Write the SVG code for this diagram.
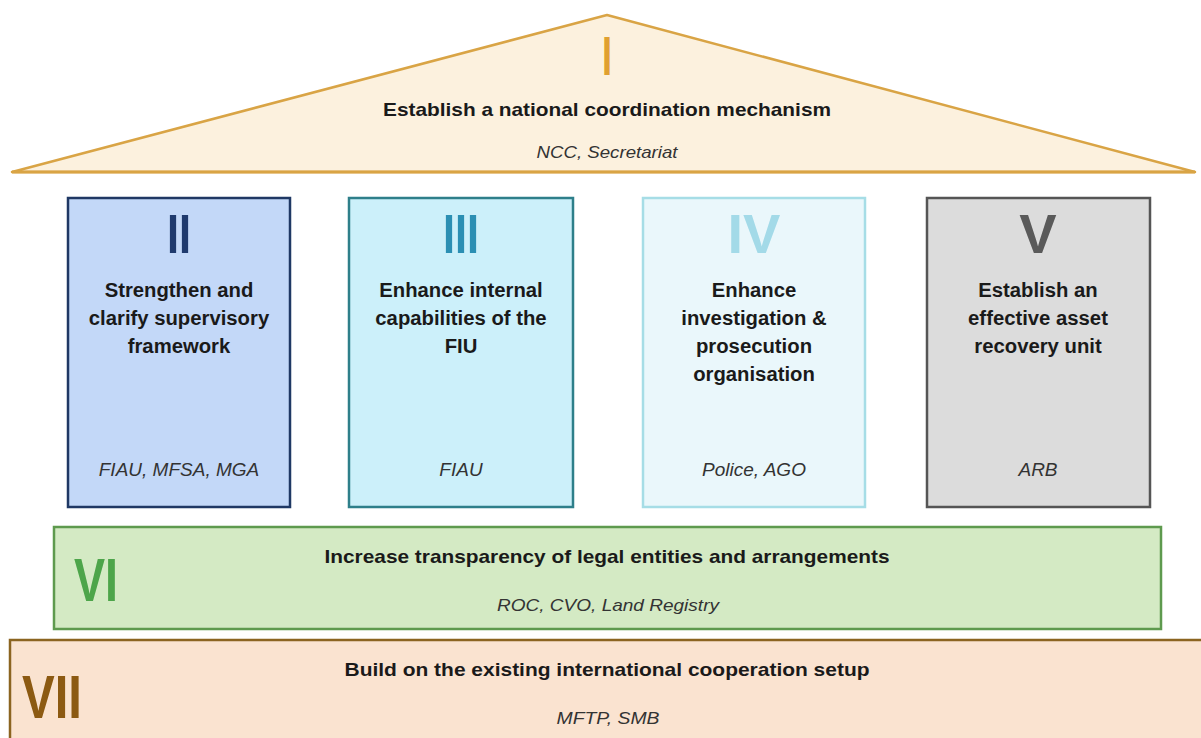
<svg xmlns="http://www.w3.org/2000/svg" width="1201" height="738" viewBox="0 0 1201 738">
<style>
.num{font-family:"Liberation Sans",Arial,sans-serif;font-weight:bold;text-anchor:middle}
.t{font-family:"Liberation Sans",Arial,sans-serif;font-weight:bold;font-size:20.3px;fill:#1a1a1a;text-anchor:middle}
.s{font-family:"Liberation Sans",Arial,sans-serif;font-style:italic;font-size:19px;fill:#333;text-anchor:middle}
.b{font-family:"Liberation Sans",Arial,sans-serif;font-weight:bold;font-size:18.5px;fill:#1a1a1a;text-anchor:middle}
.bs{font-family:"Liberation Sans",Arial,sans-serif;font-style:italic;font-size:17px;fill:#333;text-anchor:middle}
</style>
<rect width="1201" height="738" fill="#ffffff"/>
<g id="roof">
<polygon points="607,15 12,172 1195,172" fill="#FCF1DE" stroke="#D9A445" stroke-width="2.5" stroke-linejoin="round"/>
<line x1="12" y1="172" x2="1195" y2="172" stroke="#D9A445" stroke-width="3"/>
<text class="num" x="607" y="75" font-size="56" fill="#E0A030" textLength="10" lengthAdjust="spacingAndGlyphs">I</text>
<text class="b" x="607" y="116" textLength="448" lengthAdjust="spacingAndGlyphs">Establish a national coordination mechanism</text>
<text class="bs" x="607" y="158" textLength="141" lengthAdjust="spacingAndGlyphs">NCC, Secretariat</text>
</g>
<g id="pillar2">
<rect x="68" y="198" width="222" height="309" fill="#C3D8F8" stroke="#1F3864" stroke-width="2.5"/>
<text class="num" x="179" y="253" font-size="56" fill="#1F3A6E" textLength="24" lengthAdjust="spacingAndGlyphs">II</text>
<text class="t" x="179" y="297">Strengthen and</text>
<text class="t" x="179" y="325">clarify supervisory</text>
<text class="t" x="179" y="353">framework</text>
<text class="s" x="179" y="476">FIAU, MFSA, MGA</text>
</g>
<g id="pillar3">
<rect x="349" y="198" width="224" height="309" fill="#CCF0FA" stroke="#2E7F8A" stroke-width="2.5"/>
<text class="num" x="461" y="253" font-size="56" fill="#2B8FB3" textLength="36" lengthAdjust="spacingAndGlyphs">III</text>
<text class="t" x="461" y="297">Enhance internal</text>
<text class="t" x="461" y="325">capabilities of the</text>
<text class="t" x="461" y="353">FIU</text>
<text class="s" x="461" y="476">FIAU</text>
</g>
<g id="pillar4">
<rect x="643" y="198" width="222" height="309" fill="#EAF7FB" stroke="#A6DDE6" stroke-width="2.5"/>
<text class="num" x="754" y="253" font-size="56" fill="#A3DAE8">IV</text>
<text class="t" x="754" y="297">Enhance</text>
<text class="t" x="754" y="325">investigation &amp;</text>
<text class="t" x="754" y="353">prosecution</text>
<text class="t" x="754" y="381">organisation</text>
<text class="s" x="754" y="476">Police, AGO</text>
</g>
<g id="pillar5">
<rect x="927" y="198" width="223" height="309" fill="#DCDCDC" stroke="#555555" stroke-width="2.5"/>
<text class="num" x="1038" y="253" font-size="56" fill="#5A5A5A">V</text>
<text class="t" x="1038" y="297">Establish an</text>
<text class="t" x="1038" y="325">effective asset</text>
<text class="t" x="1038" y="353">recovery unit</text>
<text class="s" x="1038" y="476">ARB</text>
</g>
<g id="band6">
<rect x="54" y="527" width="1107" height="102" fill="#D4EAC4" stroke="#5E9A4E" stroke-width="2.5"/>
<text class="num" x="96" y="601" font-size="62" fill="#4DA54A" textLength="44" lengthAdjust="spacingAndGlyphs">VI</text>
<text class="b" x="607" y="563" textLength="565" lengthAdjust="spacingAndGlyphs">Increase transparency of legal entities and arrangements</text>
<text class="bs" x="608" y="611" textLength="222" lengthAdjust="spacingAndGlyphs">ROC, CVO, Land Registry</text>
</g>
<g id="band7">
<rect x="10" y="640" width="1200" height="110" fill="#FAE3D0" stroke="#8B6420" stroke-width="2.5"/>
<text class="num" x="52" y="718" font-size="62" fill="#8C5A12" textLength="60" lengthAdjust="spacingAndGlyphs">VII</text>
<text class="b" x="607" y="676" textLength="525" lengthAdjust="spacingAndGlyphs">Build on the existing international cooperation setup</text>
<text class="bs" x="608" y="724" textLength="103" lengthAdjust="spacingAndGlyphs">MFTP, SMB</text>
</g>
<g id="connectors"></g>
</svg>
